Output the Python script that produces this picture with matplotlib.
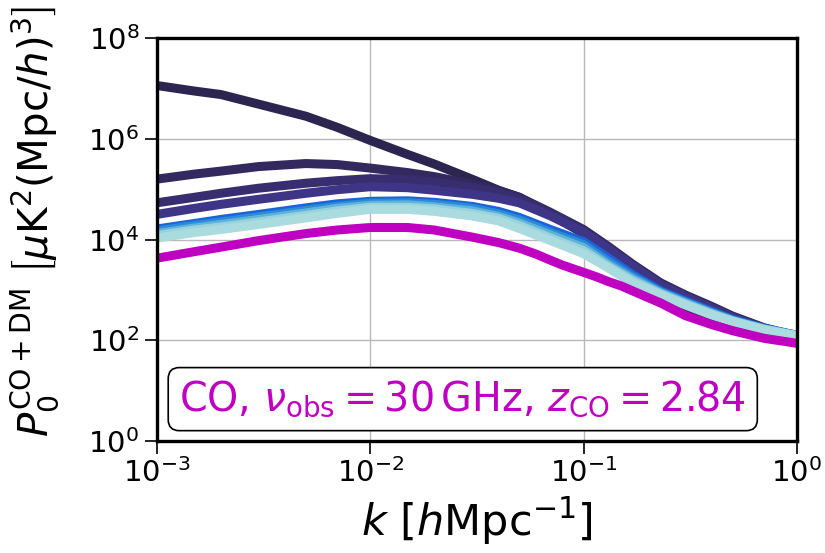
import numpy as np
import matplotlib
matplotlib.use("Agg")
import matplotlib.pyplot as plt

# ---------------- data (log10 of P) ----------------
k = [1e-3, 1.5e-3, 2e-3, 3e-3, 5e-3, 7e-3, 1e-2, 1.5e-2, 2e-2, 3e-2, 4e-2,
     5e-2, 7e-2, 0.1, 0.13, 0.17, 0.23, 0.3, 0.4, 0.5, 0.7, 1.0]

logP_A = [7.06, 6.95, 6.88, 6.69, 6.45, 6.23, 5.97, 5.69, 5.50, 5.20, 4.98,
          4.84, 4.50, 4.12, 3.72, 3.28, 2.80, 2.57, 2.38, 2.27, 2.14, 2.06]
logP_B = [5.20, 5.30, 5.36, 5.45, 5.51, 5.49, 5.42, 5.33, 5.25, 5.10, 4.97,
          4.84, 4.54, 4.20, 3.87, 3.51, 3.14, 2.90, 2.67, 2.48, 2.25, 2.08]
logP_C = [4.73, 4.84, 4.92, 5.02, 5.12, 5.17, 5.21, 5.19, 5.14, 5.04, 4.93,
          4.81, 4.52, 4.18, 3.85, 3.49, 3.12, 2.88, 2.65, 2.47, 2.24, 2.08]
logP_D = [4.50, 4.62, 4.70, 4.80, 4.92, 4.99, 5.05, 5.03, 4.98, 4.90, 4.82,
          4.73, 4.47, 4.15, 3.82, 3.47, 3.10, 2.86, 2.63, 2.45, 2.23, 2.07]

logP_band1 = [4.21, 4.32, 4.40, 4.50, 4.63, 4.71, 4.76, 4.77, 4.74, 4.66, 4.56,
              4.44, 4.20, 3.96, 3.64, 3.30, 2.98, 2.78, 2.57, 2.41, 2.24, 2.10]
logP_band2 = [4.17, 4.28, 4.35, 4.45, 4.58, 4.66, 4.72, 4.73, 4.70, 4.62, 4.51,
              4.39, 4.14, 3.90, 3.57, 3.26, 2.96, 2.76, 2.55, 2.40, 2.23, 2.10]
logP_band3 = [4.12, 4.23, 4.30, 4.40, 4.53, 4.62, 4.68, 4.69, 4.65, 4.57, 4.46,
              4.33, 4.09, 3.84, 3.51, 3.22, 2.94, 2.74, 2.53, 2.39, 2.22, 2.09]
logP_band4 = [4.08, 4.19, 4.25, 4.35, 4.48, 4.57, 4.64, 4.64, 4.61, 4.52, 4.42,
              4.28, 4.03, 3.78, 3.47, 3.18, 2.92, 2.72, 2.52, 2.38, 2.22, 2.09]
logP_band5 = [4.03, 4.14, 4.20, 4.30, 4.43, 4.52, 4.60, 4.60, 4.56, 4.47, 4.37,
              4.22, 3.98, 3.72, 3.44, 3.14, 2.90, 2.70, 2.50, 2.37, 2.21, 2.09]

k_CO = [1e-3, 1.5e-3, 2e-3, 3e-3, 5e-3, 7e-3, 1e-2, 1.5e-2, 2e-2, 3e-2, 4e-2,
        5e-2, 6e-2, 7e-2, 8e-2, 0.1, 0.115, 0.13, 0.15, 0.17, 0.2, 0.23,
        0.3, 0.4, 0.5, 0.7, 1.0]
logP_CO = [3.63, 3.76, 3.85, 3.98, 4.12, 4.19, 4.24, 4.24, 4.19, 4.05, 3.94,
           3.83, 3.71, 3.59, 3.49, 3.35, 3.26, 3.17, 3.08, 2.98, 2.85, 2.74,
           2.49, 2.31, 2.19, 2.04, 1.94]

dark_series = [logP_A, logP_B, logP_C, logP_D]
dark_colors = ["#2c2550", "#33295e", "#382d6e", "#3f3586"]
band_series = [logP_band1, logP_band2, logP_band3, logP_band4, logP_band5]
band_colors = ["#1a64d8", "#2c8ad8", "#5fb2d9", "#98d2dd", "#aadbdf"]

xticks = [1e-3, 1e-2, 1e-1, 1e0]
yticks = [1e0, 1e2, 1e4, 1e6, 1e8]
annot = r"CO, $\nu_{\rm obs} = 30\,{\rm GHz}$, $z_{\rm CO} = 2.84$"
magenta = "#c000c0"

# ---------------- plot ----------------
fig = plt.figure(figsize=(8.25, 5.53), dpi=100)
ax = fig.add_axes([0.190, 0.2025, 0.776, 0.7285])

lw = 6.5
for s, c in zip(dark_series, dark_colors):
    ax.plot(k, 10.0 ** np.array(s), color=c, lw=lw, solid_capstyle="butt",
            solid_joinstyle="round")
for s, c in zip(band_series, band_colors):
    ax.plot(k, 10.0 ** np.array(s), color=c, lw=lw, solid_capstyle="butt",
            solid_joinstyle="round")
ax.plot(k_CO, 10.0 ** np.array(logP_CO), color=magenta, lw=lw,
        solid_capstyle="butt", solid_joinstyle="round")

ax.set_xscale("log")
ax.set_yscale("log")
ax.set_xlim(1e-3, 1e0)
ax.set_ylim(1e0, 1e8)
ax.set_xticks(xticks)
ax.set_yticks(yticks)
ax.minorticks_off()
ax.grid(True, color="#b8b8b8", lw=1.0)
ax.set_axisbelow(True)
for sp in ax.spines.values():
    sp.set_linewidth(2.4)
ax.tick_params(axis="both", which="major", labelsize=21, length=9, width=1.2)

ax.set_xlabel(r"$k\ [h{\rm Mpc}^{-1}]$", fontsize=31)
ax.set_ylabel(r"$P_0^{\rm CO+DM}\ \left[\mu{\rm K}^2({\rm Mpc}/h)^3\right]$", fontsize=29)
ax.xaxis.set_label_coords(0.5, -0.135)
ax.yaxis.set_label_coords(-0.15, 0.545)

ax.text(0.478, 0.104, annot, transform=ax.transAxes, ha="center", va="center",
        fontsize=28.5, color=magenta,
        bbox=dict(boxstyle="round,pad=0.28", fc="white", ec="black", lw=1.2))

fig.savefig("out.png", dpi=100)
